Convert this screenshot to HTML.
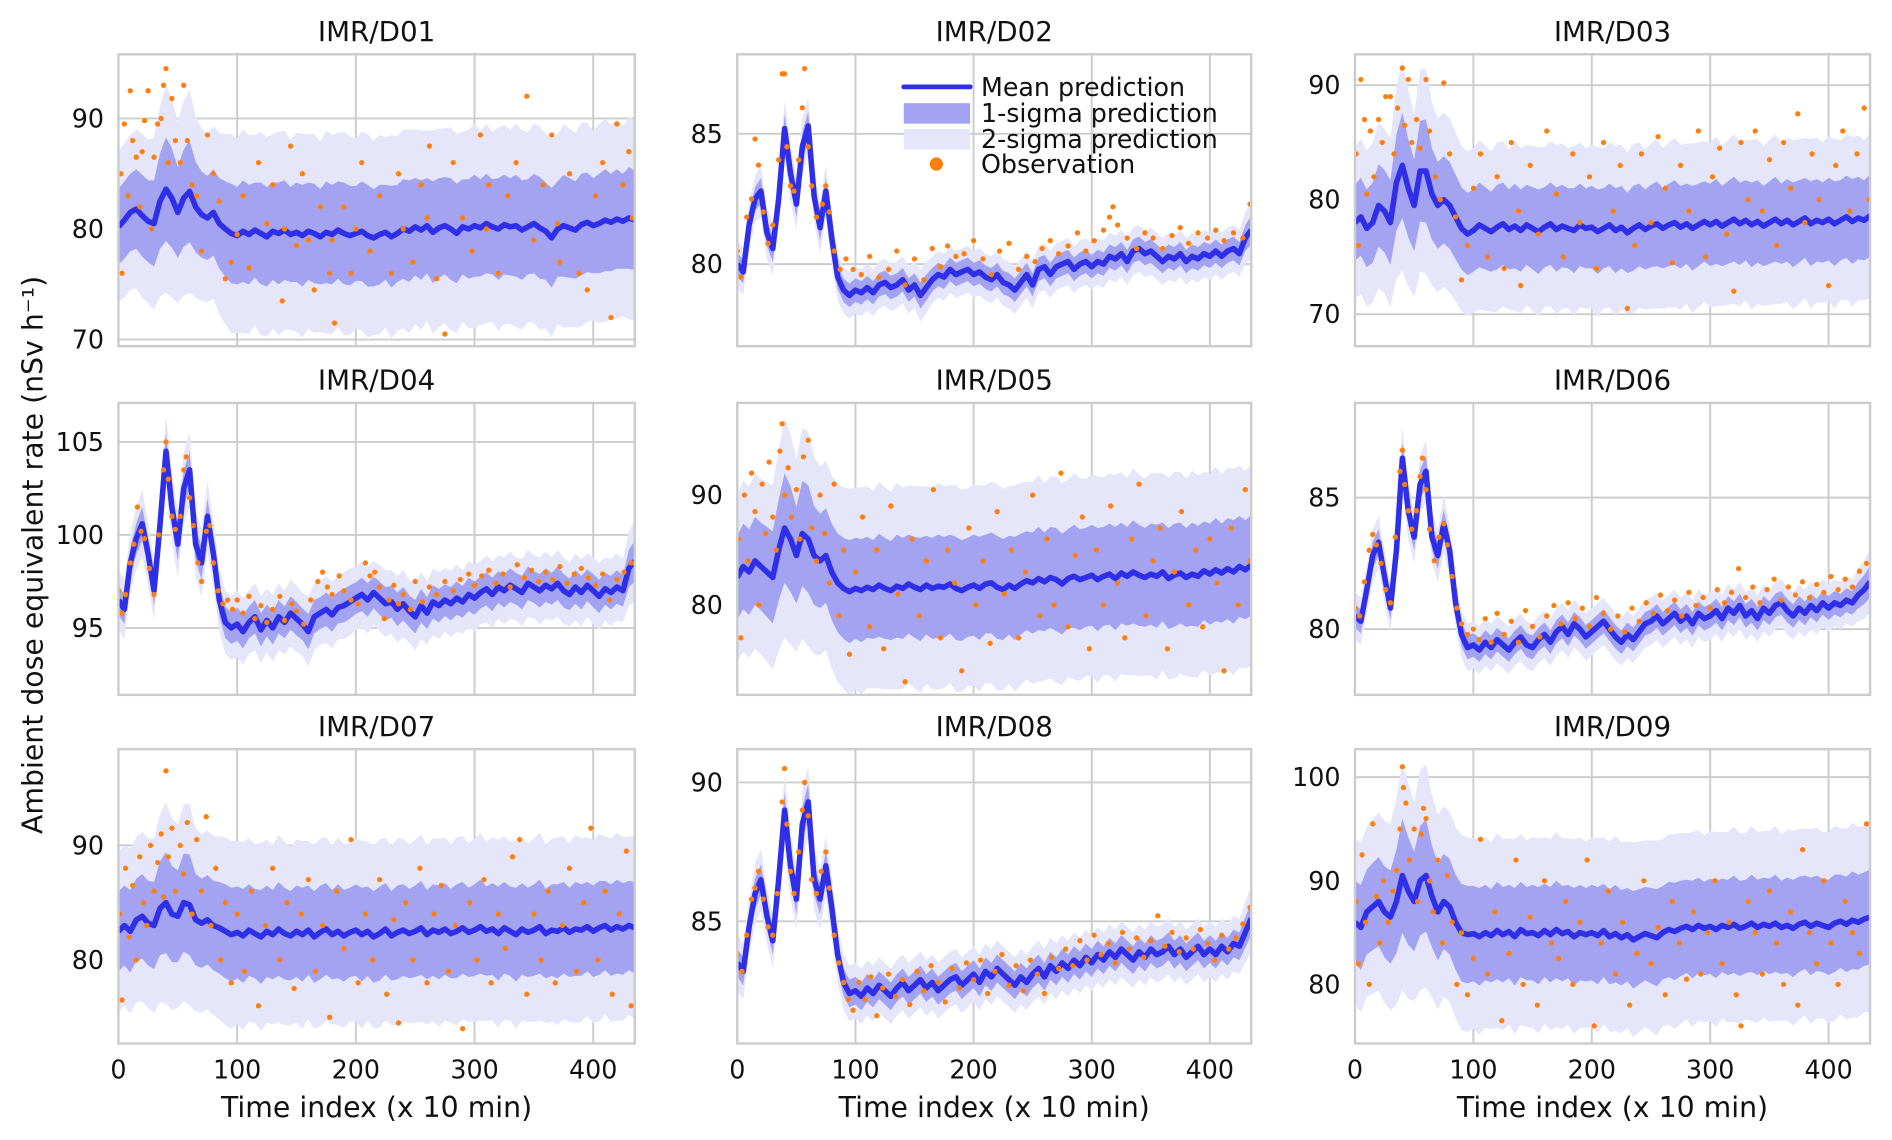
<!DOCTYPE html>
<html><head><meta charset="utf-8"><style>
html,body{margin:0;padding:0;background:#fff;}
svg{display:block;font-family:"DejaVu Sans","Liberation Sans",sans-serif;}
</style></head><body>
<svg id="fig" width="1892" height="1140" viewBox="0 0 1568 945" xmlns="http://www.w3.org/2000/svg">
<text x="0" y="0" transform="translate(35,460) rotate(-90)" text-anchor="middle" font-size="23.5" fill="#111">Ambient dose equivalent rate (nSv h⁻¹)</text>
</svg>
<script>
const tStep = 5;
const xTicks = [0,100,200,300,400];
const panelNames = ["IMR/D01","IMR/D02","IMR/D03","IMR/D04","IMR/D05","IMR/D06","IMR/D07","IMR/D08","IMR/D09"];

const meanD01 = [80.2,80.8,81.5,81.8,81.2,80.7,80.5,82.5,83.6,82.8,81.5,82.8,83.4,82.0,81.3,81.0,81.5,80.5,80.0,79.6,
79.4,79.8,79.5,79.9,79.6,79.3,79.8,79.6,79.9,79.5,79.7,79.4,79.8,79.6,79.3,79.7,79.5,79.9,79.6,79.4,
79.6,79.8,79.4,79.2,79.5,79.7,79.3,79.6,80.0,79.8,80.2,79.9,80.3,79.7,80.1,80.3,80.0,79.6,80.2,80.0,
80.3,80.1,80.5,80.2,80.0,80.4,80.2,80.3,79.9,80.2,80.5,80.1,79.8,79.2,80.0,80.3,80.1,79.9,80.4,80.6,
80.3,80.5,80.8,80.6,80.9,80.7,81.0,80.8];
const sigD01 = [3.4,3.5,3.5,3.6,3.7,3.7,3.9,4.3,4.7,4.5,4.1,4.4,4.6,4.1,3.9,3.8,3.9,4.1,4.3,4.5,
4.4,4.6,4.5,4.3,4.6,4.5,4.4,4.6,4.5,4.3,4.5,4.6,4.4,4.5,4.3,4.6,4.5,4.4,4.6,4.5,
4.3,4.5,4.6,4.4,4.5,4.3,4.6,4.4,4.5,4.6,4.4,4.5,4.3,4.6,4.5,4.4,4.6,4.5,4.3,4.5,
4.6,4.4,4.5,4.3,4.6,4.5,4.4,4.6,4.5,4.3,4.5,4.6,4.4,4.5,4.3,4.6,4.5,4.4,4.6,4.5,
4.3,4.5,4.6,4.4,4.5,4.3,4.6,4.5];
const obsD01 = [[2,85],[3,76],[5,89.5],[8,83],[10,92.5],[12,88],[15,86.5],[18,82],[20,87],[22,89.8],[25,92.5],[28,80],[30,86.5],[33,89.5],[36,90],[38,93],[40,94.5],[42,86],[45,91.8],[48,88],[52,86],[55,93],[58,88],[62,84],[66,83],[70,78],[75,88.5],[80,85],[85,82.5],[90,75.5],[95,77],[100,79.5],[105,83],[110,76.5],[118,86],[125,80.5],[130,84],[138,73.5],[140,80],[145,87.5],[150,78.5],[155,85],[160,79],[165,74.5],[170,82],[178,76],[180,79],[182,71.5],[190,82],[196,76],[200,80],[205,86],[212,78],[220,83],[230,76],[236,85],[240,80],[248,77],[255,84],[260,81],[262,87.5],[268,75.5],[275,70.5],[282,86],[290,81],[298,78],[305,88.5],[310,80],[312,84],[320,76],[328,83],[335,86],[344,92],[350,79],[358,84],[365,88.5],[370,80.5],[372,77],[380,85],[388,76],[395,74.5],[402,83],[408,86],[415,72],[420,89.5],[425,84],[430,87],[433,81]];

const meanD02 = [80.0,79.7,81.5,82.5,82.8,81.2,80.6,82.5,85.2,83.5,82.3,84.5,85.3,82.6,81.4,82.8,81.0,79.5,79.0,78.8,
79.0,78.9,79.1,78.9,79.2,79.3,79.1,79.2,79.4,79.0,79.2,78.8,79.1,79.4,79.6,79.5,79.8,79.6,79.7,79.8,
79.6,79.7,79.5,79.4,79.6,79.3,79.2,79.0,79.3,79.6,79.2,79.8,79.9,79.6,79.9,80.0,80.1,79.8,80.0,80.1,
79.9,80.1,80.0,80.3,80.2,80.4,80.1,80.5,80.6,80.4,80.5,80.3,80.1,80.3,80.2,80.4,80.1,80.3,80.2,80.4,
80.3,80.5,80.3,80.5,80.6,80.4,81.0,81.3];
const sigD02 = [0.45,0.45,0.45,0.45,0.5,0.5,0.5,0.5,0.55,0.55,0.5,0.55,0.55,0.5,0.5,0.5,0.5,0.45,0.45,0.45,
0.45,0.45,0.45,0.45,0.45,0.45,0.45,0.45,0.45,0.45,0.45,0.5,0.5,0.45,0.45,0.45,0.45,0.45,0.45,0.45,
0.45,0.45,0.45,0.45,0.45,0.45,0.45,0.45,0.45,0.45,0.45,0.45,0.45,0.45,0.45,0.45,0.45,0.45,0.45,0.45,
0.45,0.45,0.45,0.45,0.45,0.45,0.45,0.45,0.45,0.45,0.45,0.45,0.45,0.45,0.45,0.45,0.45,0.45,0.45,0.45,
0.45,0.45,0.45,0.45,0.45,0.45,0.5,0.55];
const obsD02 = [[0,80.5],[3,79.5],[8,81.8],[12,82.5],[15,84.8],[18,83.8],[22,82],[26,80.8],[30,81.5],[35,84],[38,87.3],[40,87.3],[42,84.5],[45,83],[48,82.8],[52,84],[55,86],[57,87.5],[60,84.5],[63,83],[67,81.8],[72,82.3],[75,83],[78,82],[82,80.5],[87,79.8],[92,80.2],[98,79.8],[105,79.6],[112,80.3],[120,79.5],[128,79.8],[135,80.5],[142,79.2],[150,80.2],[158,79.4],[165,80.6],[172,79.9],[178,80.7],[185,80.3],[192,80.4],[200,80.9],[208,80.2],[215,79.6],[222,80.5],[230,80.8],[238,79.8],[245,80.3],[252,80.1],[258,80.6],[265,80.9],[272,80.4],[280,80.7],[288,81.2],[295,80.5],[302,80.9],[310,81.3],[315,81.8],[318,82.2],[322,81.5],[330,81.0],[338,80.6],[345,81.2],[352,81.0],[360,80.6],[368,81.1],[375,81.4],[382,80.8],[390,81.2],[398,81.0],[405,81.3],[412,80.9],[420,81.2],[428,81.0],[434,82.3]];

const meanD03 = [78.0,78.5,77.5,78.0,79.5,79.0,78.0,81.5,83.0,81.0,79.5,82.5,82.5,80.5,79.5,80.0,79.5,78.5,77.5,77.0,
77.3,77.8,77.5,77.2,77.6,77.9,77.4,77.7,77.3,77.8,77.5,77.2,77.6,77.9,77.4,77.7,77.5,77.3,77.8,77.5,
77.6,77.2,77.5,77.8,77.3,77.6,77.1,77.5,77.8,77.4,77.7,77.9,77.5,77.8,78.0,77.6,77.9,77.5,77.8,78.1,
77.8,78.1,77.7,78.0,78.3,77.9,78.2,77.8,78.1,77.7,78.0,78.3,77.9,78.2,77.8,78.1,78.4,77.9,78.2,78.0,
78.3,77.9,78.2,78.5,78.1,78.4,78.2,78.6];
const sigD03 = [3.3,3.4,3.4,3.5,3.6,3.6,3.7,4.2,4.6,4.3,4.0,4.4,4.5,4.0,3.8,3.8,3.8,3.7,3.6,3.6,
3.6,3.7,3.6,3.5,3.7,3.6,3.5,3.7,3.6,3.5,3.6,3.7,3.5,3.6,3.7,3.6,3.5,3.7,3.6,3.5,
3.6,3.7,3.5,3.6,3.7,3.6,3.5,3.7,3.6,3.5,3.6,3.7,3.5,3.6,3.7,3.6,3.5,3.7,3.6,3.5,
3.6,3.7,3.5,3.6,3.7,3.6,3.5,3.7,3.6,3.5,3.6,3.7,3.5,3.6,3.7,3.6,3.5,3.7,3.6,3.5,
3.6,3.7,3.5,3.6,3.7,3.6,3.5,3.6];
const obsD03 = [[1,84],[3,76],[5,90.5],[8,87],[10,80.5],[13,86],[16,82],[20,87],[23,85],[26,89],[30,89],[33,84],[36,88],[40,91.5],[42,86.5],[45,90.5],[48,85],[52,87],[55,84.5],[60,90.5],[63,86],[68,82],[72,80],[75,90.2],[80,84],[85,78.5],[90,73],[95,76],[100,81],[106,84],[112,75],[120,82],[126,74],[132,85],[138,79],[140,72.5],[148,83],[155,77],[162,86],[170,80.5],[176,75],[184,84],[190,78],[198,82],[204,74],[210,85],[218,79],[224,83],[230,70.5],[236,76],[242,84],[250,78],[256,85.5],[262,81],[268,74.5],[275,83],[282,79],[290,86],[296,75],[302,82],[308,84.5],[314,77],[320,72],[326,85],[332,80],[338,86],[344,79],[350,83.5],[356,76],[362,85],[368,81],[374,87.5],[380,78],[386,84],[392,80],[400,72.5],[406,83],[412,86],[418,79],[424,84],[430,88],[434,80]];

const meanD04 = [96.5,96.0,98.5,99.8,100.6,99.0,97.0,100.5,104.5,101.5,99.5,102.5,103.5,99.5,98.5,101.0,99.0,96.5,95.3,95.0,
95.2,94.8,95.3,95.6,94.9,95.4,95.0,95.6,95.3,95.8,95.5,95.2,94.8,95.6,95.8,96.0,95.7,96.1,96.2,96.4,
96.6,96.8,96.5,96.9,96.6,96.3,96.4,96.0,96.3,95.9,95.6,96.2,95.8,96.4,96.2,96.5,96.3,96.6,96.4,96.8,
96.6,96.9,97.1,96.8,97.2,97.0,97.3,97.1,96.9,97.4,97.2,97.0,97.3,97.1,97.4,97.0,96.8,97.2,96.9,97.3,
97.0,96.7,97.1,96.9,97.2,97.0,98.2,98.6];
const sigD04 = [0.8,0.8,0.8,0.85,0.9,0.85,0.8,0.9,1.0,0.95,0.9,0.95,1.0,0.9,0.9,0.95,0.9,0.85,0.85,0.85,
0.9,0.9,0.85,0.9,0.9,0.85,0.9,0.9,0.85,0.9,0.9,0.85,0.95,0.9,0.85,0.9,0.9,0.85,0.9,0.9,
0.85,0.9,0.9,0.85,0.9,0.9,0.85,0.9,0.9,0.85,0.9,0.9,0.85,0.9,0.9,0.85,0.9,0.9,0.85,0.9,
0.9,0.85,0.9,0.9,0.85,0.9,0.9,0.85,0.9,0.9,0.85,0.9,0.9,0.85,0.9,0.9,0.85,0.9,0.9,0.85,
0.9,0.9,0.85,0.9,0.9,0.85,1.0,1.1];
const obsD04 = [[0,97],[3,95.8],[6,96.8],[10,98.5],[13,99.5],[16,101.5],[19,100.2],[22,99.8],[26,98.2],[30,96.8],[34,100],[38,103.5],[40,105],[42,103],[45,101],[48,100.3],[52,101],[55,103.5],[57,104.2],[60,102],[63,100.5],[67,98.5],[70,97.5],[74,100.2],[77,100.5],[80,98.5],[84,97],[88,96.3],[92,96.5],[96,96],[100,96.5],[105,95.8],[110,96.7],[115,95.5],[120,96.2],[125,95.3],[130,96],[136,96.7],[140,95.4],[146,96.3],[150,95.9],[156,95.2],[162,96.5],[168,97.5],[172,98],[176,97.2],[180,96.8],[186,97.8],[190,97],[196,96.5],[202,96.3],[208,98.5],[212,97.8],[216,98],[220,97.2],[224,95.5],[228,96.5],[232,97.3],[236,96.3],[240,96.8],[246,96],[250,97.5],[256,96.4],[262,97.2],[268,96.8],[275,97.5],[282,97],[288,97.6],[295,97.9],[300,97.3],[306,97.8],[312,98.1],[318,97.4],[324,97.9],[330,97.2],[336,98.4],[342,97.7],[348,98.1],[354,97.5],[360,98],[366,97.6],[372,98.3],[378,97.4],[384,97.9],[390,98.2],[396,97.7],[402,97.3],[408,97.9],[414,96.5],[420,97.6],[426,98],[432,98.5]];

const meanD05 = [82.5,83.5,83.0,84.0,83.5,83.0,82.5,85.0,87.0,86.0,84.5,86.5,86.0,84.5,84.0,84.5,83.0,82.0,81.5,81.2,
81.5,81.3,81.6,81.4,81.8,81.5,81.3,81.7,81.5,81.9,81.6,81.4,81.8,81.5,81.7,81.6,81.9,81.5,81.3,81.6,
81.8,81.5,81.9,82.0,81.6,81.4,81.8,81.5,81.9,82.2,82.0,82.4,82.1,82.5,82.3,81.9,82.4,82.6,82.3,82.5,
82.7,82.3,82.6,82.8,82.4,82.9,82.6,83.0,82.7,82.5,82.8,82.6,83.0,82.4,82.7,82.9,82.5,82.8,82.6,83.1,
82.8,83.2,82.9,83.3,83.0,83.5,83.2,83.6];
const sigD05 = [3.8,3.9,3.9,4.0,4.0,4.1,4.2,4.6,5.0,4.8,4.4,4.8,4.9,4.5,4.3,4.3,4.4,4.5,4.6,4.7,
4.6,4.7,4.6,4.5,4.7,4.6,4.5,4.7,4.6,4.5,4.6,4.7,4.5,4.6,4.7,4.6,4.5,4.7,4.6,4.5,
4.6,4.7,4.5,4.6,4.7,4.6,4.5,4.7,4.6,4.5,4.6,4.7,4.5,4.6,4.7,4.6,4.5,4.7,4.6,4.5,
4.6,4.7,4.5,4.6,4.7,4.6,4.5,4.7,4.6,4.5,4.6,4.7,4.5,4.6,4.7,4.6,4.5,4.7,4.6,4.5,
4.6,4.7,4.5,4.6,4.7,4.6,4.5,4.6];
const obsD05 = [[1,86],[3,77],[6,90],[9,84],[12,92],[15,88.5],[18,80],[21,91],[24,86.5],[27,93],[30,88],[33,85],[36,94],[38,96.5],[40,90],[43,92.5],[46,88],[50,90.5],[53,86],[56,93.5],[60,95],[63,87],[67,84],[70,90],[74,86.5],[78,82],[82,91],[86,79],[90,85],[95,75.5],[100,83],[106,88],[112,78],[118,85],[124,76],[130,89],[136,81],[142,73],[148,86],[154,79],[160,84],[166,90.5],[172,77],[178,85],[184,82],[190,74],[196,87],[202,80],[208,84],[214,76.5],[220,88.5],[226,81],[232,85],[238,77],[244,83],[250,90],[256,79],[262,86],[268,80],[274,92],[280,78],[286,84.5],[292,88],[298,76],[304,85],[310,80],[316,89],[322,82],[328,77],[334,86],[340,91],[346,79],[352,84],[358,87],[364,76],[370,83],[376,88.5],[382,80],[388,85],[394,78],[400,86],[406,82],[412,74],[418,87],[424,80],[430,90.5],[434,84]];

const meanD06 = [80.5,80.3,81.5,82.8,83.3,82.0,80.8,83.0,86.5,84.5,83.5,85.5,86.0,83.5,82.8,84.0,83.0,81.0,79.8,79.3,
79.4,79.2,79.5,79.3,79.6,79.4,79.2,79.5,79.7,79.4,79.3,79.6,79.8,79.5,79.9,80.1,79.8,80.2,80.0,79.7,
79.9,80.1,80.3,80.0,79.7,79.5,79.8,79.6,79.9,80.2,80.3,80.5,80.2,80.4,80.6,80.3,80.5,80.2,80.6,80.4,
80.5,80.7,80.4,80.8,80.6,80.9,80.5,80.7,80.4,80.8,80.6,80.9,81.0,80.7,80.5,80.8,80.6,80.9,80.7,81.0,
80.8,81.0,80.9,81.1,81.0,81.3,81.5,81.8];
const sigD06 = [0.45,0.45,0.45,0.5,0.5,0.5,0.45,0.5,0.6,0.55,0.5,0.55,0.6,0.5,0.5,0.55,0.5,0.45,0.45,0.45,
0.45,0.45,0.45,0.45,0.45,0.45,0.45,0.45,0.45,0.45,0.45,0.45,0.45,0.45,0.45,0.45,0.45,0.45,0.45,0.45,
0.45,0.45,0.45,0.45,0.45,0.45,0.45,0.45,0.45,0.45,0.45,0.45,0.45,0.45,0.45,0.45,0.45,0.45,0.45,0.45,
0.45,0.45,0.45,0.45,0.45,0.45,0.45,0.45,0.45,0.45,0.45,0.45,0.45,0.45,0.45,0.45,0.45,0.45,0.45,0.45,
0.45,0.45,0.45,0.45,0.45,0.5,0.55,0.6];
const obsD06 = [[0,80.8],[4,80.5],[8,81.8],[12,83],[15,83.6],[18,83.2],[22,82.5],[26,81.5],[30,81],[34,83.5],[38,86],[40,86.8],[42,85.5],[45,84.5],[48,83.8],[52,84.5],[55,85.8],[57,86.5],[60,85.3],[63,83.8],[67,82.6],[71,83.5],[75,84],[78,83.2],[82,82],[86,80.8],[90,80.2],[95,79.8],[100,80],[105,79.6],[110,80.4],[115,79.5],[120,80.6],[126,79.8],[132,80.3],[138,79.5],[144,80.7],[150,80.1],[156,79.7],[162,80.5],[168,80.9],[174,80.2],[180,81],[186,80.4],[192,80.8],[198,80.1],[204,81.2],[210,80.6],[216,80],[222,80.5],[228,79.9],[234,80.8],[240,80.3],[246,81],[252,80.6],[258,81.3],[264,80.7],[270,81.1],[276,80.5],[282,81.4],[288,80.9],[294,81.2],[300,80.8],[306,81.5],[312,81],[318,81.4],[324,82.3],[330,81.2],[336,81.6],[342,81],[348,81.5],[354,81.9],[360,81.1],[366,81.6],[372,81.3],[378,81.8],[384,81.2],[390,81.7],[396,81.4],[402,82],[408,81.5],[414,81.9],[420,81.6],[426,82.2],[432,82.5]];

const meanD07 = [82.5,83.0,82.5,83.5,83.8,83.2,83.0,84.5,85.0,84.0,83.8,85.0,84.8,83.5,83.2,83.5,83.0,82.8,82.5,82.2,
82.4,82.1,82.6,82.3,82.0,82.5,82.2,82.7,82.3,82.1,82.5,82.2,82.6,82.0,82.4,82.7,82.2,82.5,82.1,82.4,
82.6,82.2,82.5,82.0,82.3,82.7,82.1,82.4,82.6,82.3,82.5,82.8,82.2,82.6,82.4,82.7,82.3,82.5,82.8,82.4,
82.6,82.9,82.5,82.7,82.3,82.8,82.5,82.2,82.7,82.4,82.6,82.9,82.3,82.6,82.5,82.8,82.4,82.7,82.6,82.9,
82.5,82.8,83.0,82.6,82.9,82.7,83.0,82.8];
const sigD07 = [3.5,3.5,3.6,3.6,3.7,3.7,3.8,4.1,4.4,4.2,4.0,4.3,4.4,4.0,3.9,3.9,3.9,4.0,4.1,4.1,
4.0,4.1,4.0,3.9,4.1,4.0,3.9,4.1,4.0,3.9,4.0,4.1,3.9,4.0,4.1,4.0,3.9,4.1,4.0,3.9,
4.0,4.1,3.9,4.0,4.1,4.0,3.9,4.1,4.0,3.9,4.0,4.1,3.9,4.0,4.1,4.0,3.9,4.1,4.0,3.9,
4.0,4.1,3.9,4.0,4.1,4.0,3.9,4.1,4.0,3.9,4.0,4.1,3.9,4.0,4.1,4.0,3.9,4.1,4.0,3.9,
4.0,4.1,3.9,4.0,4.1,4.0,3.9,4.0];
const obsD07 = [[1,84],[3,76.5],[6,88],[9,82],[12,86.5],[15,80],[18,89],[21,85],[24,83],[27,90],[30,86],[33,88.5],[36,91],[38,85.5],[40,96.5],[42,89],[45,91.5],[48,86],[52,90],[55,87.5],[58,92],[62,84],[66,90.5],[70,86],[74,92.5],[78,83],[82,88],[86,80],[90,85],[95,78],[100,84],[106,79],[112,86],[118,76],[124,83],[130,88],[136,80],[142,85],[148,77.5],[154,84],[160,87],[166,79],[172,83],[178,75],[184,86],[190,81],[196,90.5],[202,78],[208,84],[214,80],[220,87],[226,77],[232,83.5],[236,74.5],[242,85],[248,80],[254,88],[260,78],[266,84],[272,86.5],[278,79],[284,83],[290,74],[296,85],[302,80],[308,87],[314,78],[320,84],[326,81],[332,89],[338,90.5],[344,77],[350,84],[356,80],[362,86],[368,78],[374,83],[380,88],[386,79],[392,85],[398,91.5],[404,80],[410,86],[416,77],[422,84],[428,89.5],[432,76]];

const meanD08 = [83.5,83.2,84.8,86.0,86.5,85.2,84.3,86.5,89.0,87.0,85.8,88.5,89.3,86.5,85.8,87.0,85.5,83.8,82.8,82.4,
82.5,82.3,82.6,82.4,82.7,82.5,82.3,82.6,82.8,82.5,82.7,82.9,82.6,82.8,82.5,82.7,82.9,83.0,82.7,82.9,
83.1,82.8,83.2,83.0,83.3,83.1,82.9,82.7,83.0,82.8,83.1,83.3,83.0,83.4,83.2,83.5,83.3,83.6,83.4,83.7,
83.5,83.8,83.6,83.9,83.7,84.0,83.8,83.6,83.9,83.7,84.0,83.8,83.9,84.1,83.8,84.0,83.7,83.9,84.1,83.8,
84.0,83.8,84.1,83.9,84.2,84.1,84.6,85.1];
const sigD08 = [0.5,0.5,0.5,0.55,0.55,0.5,0.5,0.55,0.65,0.6,0.55,0.6,0.65,0.55,0.55,0.55,0.55,0.5,0.5,0.5,
0.5,0.5,0.5,0.5,0.5,0.5,0.5,0.5,0.5,0.5,0.5,0.5,0.5,0.5,0.5,0.5,0.5,0.5,0.5,0.5,
0.5,0.5,0.5,0.5,0.5,0.5,0.5,0.5,0.5,0.5,0.5,0.5,0.5,0.5,0.5,0.5,0.5,0.5,0.5,0.5,
0.5,0.5,0.5,0.5,0.5,0.5,0.5,0.5,0.5,0.5,0.5,0.5,0.5,0.5,0.5,0.5,0.5,0.5,0.5,0.5,
0.5,0.5,0.5,0.5,0.5,0.5,0.55,0.6];
const obsD08 = [[0,83.8],[4,83.2],[8,84.5],[12,85.8],[15,86.2],[18,86.8],[22,85.8],[26,84.8],[30,84.5],[34,86],[38,89.3],[40,90.5],[42,88.5],[45,86.8],[48,86],[52,87.5],[55,89],[57,90],[60,88.8],[63,86.5],[67,86],[71,86.8],[75,87.5],[78,86.2],[82,84.5],[86,83.5],[90,82.8],[94,82.2],[98,81.8],[103,82.8],[108,82.2],[113,83],[118,81.6],[123,82.6],[128,83.1],[134,82.3],[140,82.9],[146,82],[152,83.2],[158,82.5],[164,83.4],[170,82.8],[176,82.1],[182,83.3],[188,82.6],[194,83.5],[200,82.9],[206,83.6],[212,82.4],[218,83.2],[224,83.8],[230,82.7],[236,83.4],[242,82.5],[248,83.6],[254,83.1],[260,82.4],[266,83.7],[272,83.3],[278,84],[284,83.4],[290,84.3],[296,83.6],[302,84.5],[308,83.8],[314,84.2],[320,83.5],[326,84.6],[332,84],[338,84.4],[344,83.7],[350,84.3],[356,85.2],[362,84.1],[368,84.6],[374,83.9],[380,84.4],[386,84],[392,84.7],[398,84.2],[404,83.6],[410,84.5],[416,84],[422,84.4],[428,84.9],[434,85.5]];

const meanD09 = [86.0,85.5,87.0,87.5,88.0,87.0,86.5,88.0,90.5,89.0,88.0,90.0,90.5,88.5,87.0,88.0,87.5,86.0,85.0,84.8,
84.9,84.6,85.0,84.7,85.2,84.8,85.1,84.6,85.3,84.9,85.0,84.7,85.2,84.8,85.3,84.9,85.1,84.6,85.0,84.8,
85.0,84.7,85.2,84.6,84.9,84.5,84.8,84.3,84.6,84.9,84.7,84.5,85.0,85.3,85.1,85.4,85.6,85.3,85.7,85.4,
85.6,85.3,85.7,85.5,85.8,85.4,85.6,85.9,85.5,85.8,85.6,85.9,85.5,85.7,85.4,85.8,86.0,85.6,85.9,85.7,
85.5,85.9,86.1,85.8,86.2,86.0,86.3,86.5];
const sigD09 = [4.0,4.1,4.1,4.2,4.3,4.4,4.5,5.0,5.5,5.2,4.8,5.3,5.4,4.9,4.7,4.6,4.6,4.6,4.7,4.7,
4.6,4.7,4.6,4.5,4.7,4.6,4.5,4.7,4.6,4.5,4.6,4.7,4.5,4.6,4.7,4.6,4.5,4.7,4.6,4.5,
4.6,4.7,4.5,4.6,4.7,4.6,4.5,4.7,4.6,4.5,4.6,4.7,4.5,4.6,4.7,4.6,4.5,4.7,4.6,4.5,
4.6,4.7,4.5,4.6,4.7,4.6,4.5,4.7,4.6,4.5,4.6,4.7,4.5,4.6,4.7,4.6,4.5,4.7,4.6,4.5,
4.6,4.7,4.5,4.6,4.7,4.6,4.5,4.6];
const obsD09 = [[1,88],[3,82],[6,92.5],[9,86],[12,80],[15,95.5],[18,88.5],[21,84],[24,90],[28,86],[32,89],[35,91],[38,95],[40,101],[41,99],[43,97.5],[46,92],[50,95],[53,88],[56,94.5],[58,97],[60,96],[63,90],[66,87],[70,92],[74,84],[78,90.5],[82,86],[86,80],[90,85],[95,79],[100,82.5],[106,94],[112,81],[118,87],[124,76.5],[130,83],[136,92],[142,80],[148,86.5],[154,78],[160,90],[166,84],[172,82.5],[178,88],[184,80],[190,86],[196,92],[202,76],[208,84],[214,89],[220,81],[226,86],[232,78],[238,83],[244,90],[250,82],[256,85.5],[262,79],[268,88],[274,84],[280,80.5],[286,87],[292,81],[298,85],[304,90],[310,82],[316,86],[322,79],[326,76],[332,88],[338,85],[344,81],[350,89],[356,84],[362,80],[368,87],[374,78],[378,93],[384,85],[390,82],[396,90],[402,84],[408,80],[414,88],[420,85],[426,83],[432,95.5]];

const yTicks = [[70,80,90],[80,85],[70,80,90],[95,100,105],[80,90],[80,85],[80,90],[85,90],[80,90,100]];
const yDomains = [[69.4,95.8],[76.85,88.05],[67.2,92.7],[91.4,107.1],[71.8,98.4],[77.5,88.6],[72.7,98.4],[80.6,91.2],[74.3,102.7]];
const means = [meanD01,meanD02,meanD03,meanD04,meanD05,meanD06,meanD07,meanD08,meanD09];
const sigmas = [sigD01,sigD02,sigD03,sigD04,sigD05,sigD06,sigD07,sigD08,sigD09];
const observations = [obsD01,obsD02,obsD03,obsD04,obsD05,obsD06,obsD07,obsD08,obsD09];

const NS = "http://www.w3.org/2000/svg";
const svg = document.getElementById('fig');
const colX = [[98,526],[611,1037],[1123,1550]];
const rowY = [[45,287],[334,576],[621,865]];
const xDomain = [0,435];

function mk(tag, attrs, parent){
  const e = document.createElementNS(NS, tag);
  for (const k in attrs) e.setAttribute(k, attrs[k]);
  (parent||svg).appendChild(e);
  return e;
}

for (let p = 0; p < 9; p++){
  const r = Math.floor(p/3), c = p%3;
  const [x0,x1] = colX[c], [y0,y1] = rowY[r];
  const [d0,d1] = yDomains[p];
  const sx = t => x0 + (t - xDomain[0])/(xDomain[1]-xDomain[0])*(x1-x0);
  const sy = v => y1 - (v - d0)/(d1-d0)*(y1-y0);
  const g = mk('g', {});
  
  
  const cp = mk('clipPath', {id:'clip'+p}, g);
  mk('rect', {x:x0, y:y0, width:x1-x0, height:y1-y0}, cp);

  const title = mk('text', {x:(x0+x1)/2, y:y0-11, 'text-anchor':'middle', 'font-size':23, fill:'#111'}, g);
  title.textContent = panelNames[p];
  
  

  const grid = mk('g', {stroke:'#cccccc', 'stroke-width':1.6}, g);
  
  
  xTicks.forEach(t => { mk('line', {x1:sx(t), x2:sx(t), y1:y0, y2:y1}, grid); });
  yTicks[p].forEach(v => { mk('line', {x1:x0, x2:x1, y1:sy(v), y2:sy(v)}, grid); });

  const m = means[p], s = sigmas[p];
  const clipG = mk('g', {'clip-path':'url(#clip'+p+')'}, g);
  function band(k, fill, name){
    let up = [], lo = [];
    for (let i = 0; i < m.length; i++){
      up.push(sx(i*tStep).toFixed(1)+','+sy(m[i]+k*s[i]).toFixed(1));
      lo.push(sx(i*tStep).toFixed(1)+','+sy(m[i]-k*s[i]).toFixed(1));
    }
    const poly = mk('polygon', {points: up.concat(lo.reverse()).join(' '), fill: fill}, clipG);
    
    
  }
  band(2, '#e6e6fb', 'two-sigma-band');
  band(1, '#a3a3f2', 'one-sigma-band');
  const pts = m.map((v,i) => sx(i*tStep).toFixed(1)+','+sy(v).toFixed(1)).join(' ');
  const line = mk('polyline', {points:pts, fill:'none', stroke:'#2f2fe8', 'stroke-width':4.6, 'stroke-linejoin':'round'}, clipG);
  
  
  const og = mk('g', {fill:'#ff7f0e'}, clipG);
  
  
  observations[p].forEach(o => {
    const dot = mk('circle', {cx:sx(o[0]).toFixed(1), cy:sy(o[1]).toFixed(1), r:2.2}, og);
    
    
  });

  const frame = mk('rect', {x:x0, y:y0, width:x1-x0, height:y1-y0, fill:'none', stroke:'#cccccc', 'stroke-width':2}, g);
  
  

  yTicks[p].forEach(v => {
    const tl = mk('text', {x:x0-12, y:sy(v)+7.5, 'text-anchor':'end', 'font-size':21, fill:'#111'}, g);
    tl.textContent = v;
    
    
  });
  if (r === 2){
    xTicks.forEach(t => {
      const tl = mk('text', {x:sx(t), y:y1+29, 'text-anchor':'middle', 'font-size':21, fill:'#111'}, g);
      tl.textContent = t;
      
      
    });
    const xl = mk('text', {x:(x0+x1)/2, y:y1+61, 'text-anchor':'middle', 'font-size':23.5, fill:'#111'}, g);
    xl.textContent = 'Time index (x 10 min)';
    
    
  }
}

const lg = mk('g', {'font-size':21, fill:'#111'});


const legendLabels = ['Mean prediction','1-sigma prediction','2-sigma prediction','Observation'];
const ly = [72,93.5,115,136];
mk('line', {x1:749, x2:804, y1:ly[0], y2:ly[0], stroke:'#2f2fe8', 'stroke-width':4, 'stroke-linecap':'round'}, lg);
mk('rect', {x:749, y:ly[1]-8, width:55, height:17, fill:'#a3a3f2'}, lg);
mk('rect', {x:749, y:ly[2]-8, width:55, height:17, fill:'#e6e6fb'}, lg);
mk('circle', {cx:776, cy:ly[3], r:5.5, fill:'#ff7f0e'}, lg);
legendLabels.forEach((l,i) => {
  const t = mk('text', {x:813, y:ly[i]+7.5}, lg);
  t.textContent = l;
  
  
});
</script>
</body></html>
